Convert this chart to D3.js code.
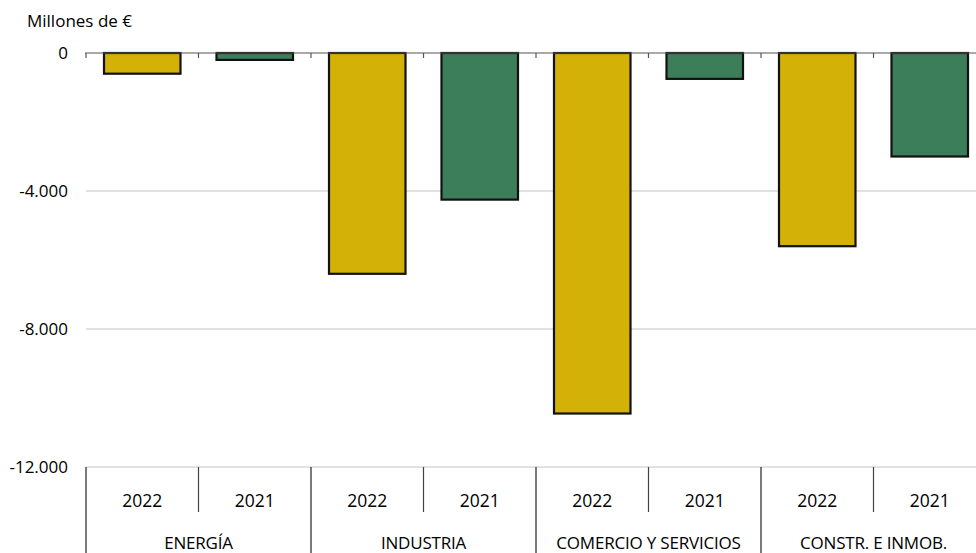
<!DOCTYPE html>
<html>
<head>
<meta charset="utf-8">
<script src="https://cdn.jsdelivr.net/npm/d3@7"></script>
<style>
html,body{margin:0;padding:0;background:#fff;}
svg{display:block;font-family:"Open Sans",sans-serif;}
</style>
</head>
<body>
<svg id="chart" width="976" height="553"></svg>
<script>
const categories = ["ENERGÍA", "INDUSTRIA", "COMERCIO Y SERVICIOS", "CONSTR. E INMOB."];
const years = ["2022", "2021"];
const values2022 = [-600, -6400, -10450, -5600];
const values2021 = [-200, -4250, -750, -3000];
const yTicks = [0, -4000, -8000, -12000];
const yTickLabels = ["0", "-4.000", "-8.000", "-12.000"];
const unitLabel = "Millones de €";
const colors = {"2022": "#D3B106", "2021": "#3C7D5A"};

(function () {
const svg = d3.select("#chart");
const mLeft = 86, mRight = 986, mTop = 53, mBottom = 467;

const y = d3.scaleLinear().domain([0, -12000]).range([mTop, mBottom]);
const x0 = d3.scaleBand().domain(categories).range([mLeft, mRight]).padding(0);
const x1 = d3.scaleBand().domain(years).range([0, x0.bandwidth()]).paddingInner(0.32).paddingOuter(0.16);
const xSub = d3.scaleBand().domain(years).range([0, x0.bandwidth()]).padding(0);

const data = categories.map((c, i) => ({cat: c, vals: [{year: "2022", v: values2022[i]}, {year: "2021", v: values2021[i]}]}));

svg.append("text").attr("x", 27).attr("y", 27).attr("font-size", 17).attr("fill", "#000").text(unitLabel);

svg.append("g").selectAll("line").data(yTicks.filter(d => d !== 0)).join("line")
  .attr("x1", mLeft).attr("x2", mRight).attr("y1", d => y(d)).attr("y2", d => y(d))
  .attr("stroke", "#d9d9d9").attr("stroke-width", 1.5);

svg.append("g").selectAll("text").data(yTicks).join("text")
  .attr("x", 68).attr("y", d => y(d)).attr("dy", "0.35em").attr("text-anchor", "end")
  .attr("font-size", 17).attr("fill", "#000")
  .text((d, i) => yTickLabels[i]);

const g = svg.append("g").selectAll("g").data(data).join("g")
  .attr("transform", d => `translate(${x0(d.cat)},0)`);
g.selectAll("rect").data(d => d.vals).join("rect")
  .attr("x", d => x1(d.year)).attr("width", x1.bandwidth())
  .attr("y", d => y(0)).attr("height", d => y(d.v) - y(0))
  .attr("fill", d => colors[d.year]).attr("stroke", "#111").attr("stroke-width", 2.2);

svg.append("line").attr("x1", mLeft - 1).attr("x2", mRight).attr("y1", y(0)).attr("y2", y(0))
  .attr("stroke", "#555").attr("stroke-width", 1.2);
const subTicks = [];
categories.forEach(c => years.forEach(yr => subTicks.push(x0(c) + xSub(yr))));
svg.append("g").selectAll("line").data(subTicks).join("line")
  .attr("x1", d => d).attr("x2", d => d).attr("y1", y(0)).attr("y2", y(0) + 5)
  .attr("stroke", "#555").attr("stroke-width", 1.2);

const bottomAxis = svg.append("g");
categories.forEach(c => {
  bottomAxis.append("line").attr("x1", x0(c)).attr("x2", x0(c)).attr("y1", mBottom).attr("y2", 553)
    .attr("stroke", "#222").attr("stroke-width", 1.2);
  bottomAxis.append("line").attr("x1", x0(c) + xSub("2021")).attr("x2", x0(c) + xSub("2021"))
    .attr("y1", mBottom).attr("y2", 512).attr("stroke", "#444").attr("stroke-width", 1.2);
  years.forEach(yr => {
    bottomAxis.append("text").attr("x", x0(c) + xSub(yr) + xSub.bandwidth() / 2).attr("y", 507)
      .attr("text-anchor", "middle").attr("font-size", 17.5).attr("fill", "#000").text(yr);
  });
  bottomAxis.append("text").attr("x", x0(c) + x0.bandwidth() / 2).attr("y", 549)
    .attr("text-anchor", "middle").attr("font-size", 17).attr("fill", "#000").attr("letter-spacing", -0.2).text(c);
});
})();
</script>
</body>
</html>
